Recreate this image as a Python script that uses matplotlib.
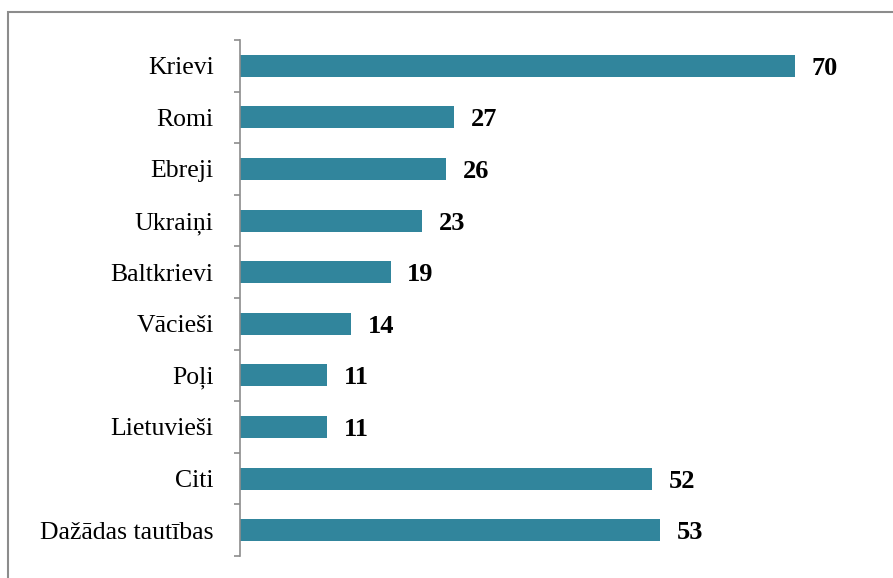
import matplotlib.pyplot as plt
import matplotlib.patches as patches
import numpy as np

# dati
categories = ["Krievi", "Romi", "Ebreji", "Ukraiņi", "Baltkrievi", "Vācieši",
              "Poļi", "Lietuvieši", "Citi", "Dažādas tautības"]
values = [70, 27, 26, 23, 19, 14, 11, 11, 52, 53]

bar_color = "#31859C"
axis_color = "#8C8C8C"

plt.rcParams["font.family"] = ["Liberation Serif", "DejaVu Serif"]

fig = plt.figure(figsize=(8.93, 5.78), dpi=100)
ax = fig.add_axes([240 / 893, 1 - 556 / 578, (870 - 240) / 893, (556 - 40) / 578])

y = np.arange(len(categories))
ax.barh(y, values, height=0.43, color=bar_color)

# vērtību uzraksti
for yi, v in zip(y, values):
    ax.annotate(str(v), (v, yi), xytext=(12, 0), textcoords="offset points",
                va="center_baseline", ha="left", fontsize=19, fontweight="bold")

ax.set_xlim(0, (870 - 240) / 7.93)
ax.set_ylim(len(categories) - 0.5, -0.5)

ax.set_yticks(y)
ax.set_yticklabels(categories, fontsize=18.5)
ax.tick_params(axis="y", which="major", length=0, pad=19)
ax.set_yticks(np.arange(len(categories) + 1) - 0.5, minor=True)
ax.tick_params(axis="y", which="minor", length=4.5, width=1.2, color=axis_color, direction="out")
ax.set_xticks([])

for s in ["top", "right", "bottom"]:
    ax.spines[s].set_visible(False)
ax.spines["left"].set_color(axis_color)
ax.spines["left"].set_linewidth(1.2)

# rāmis ap diagrammu
frame = patches.Rectangle((8 / 893, -0.1), 1.1, 1 - 12 / 578 + 0.1, transform=fig.transFigure,
                          fill=False, edgecolor=axis_color, linewidth=1.5, clip_on=False)
fig.patches.append(frame)

fig.savefig("out.png", dpi=100)
